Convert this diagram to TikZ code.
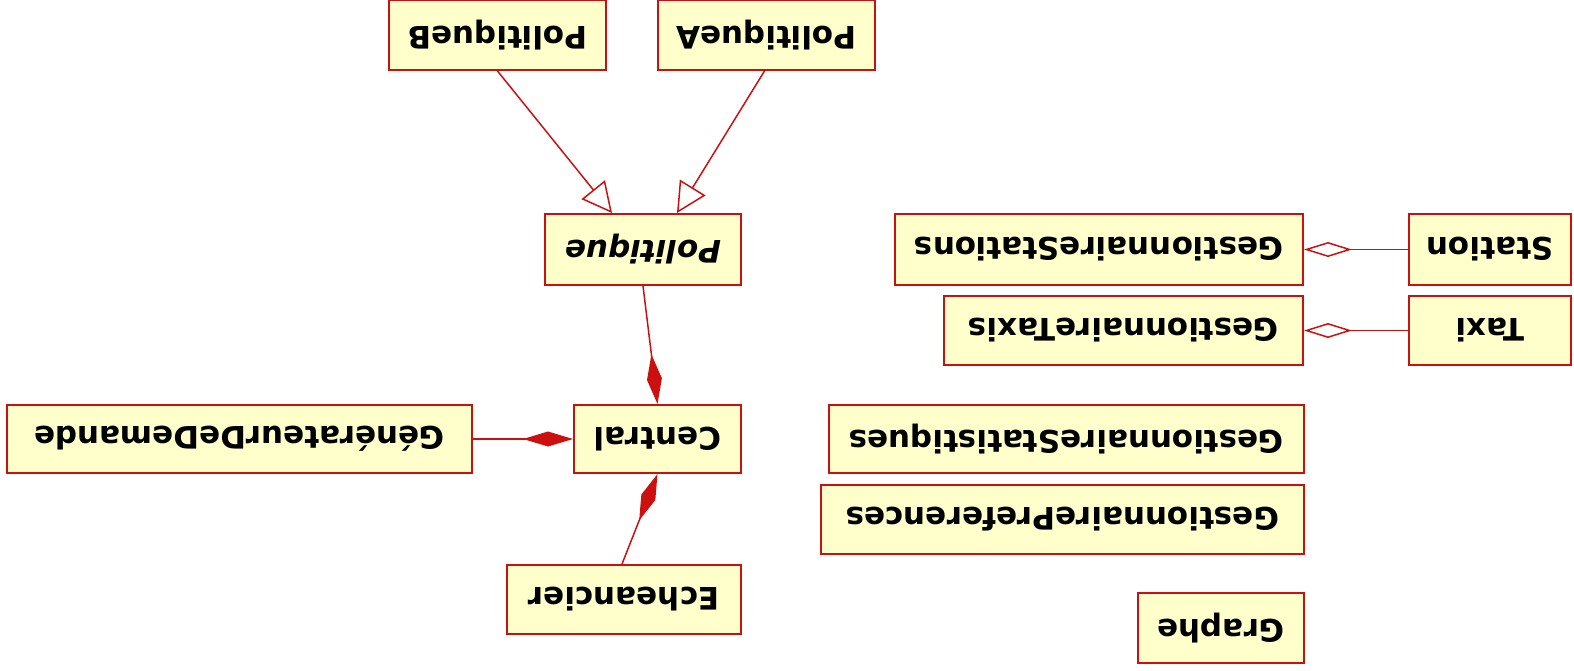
\documentclass[tikz,border=0pt]{standalone}
\usepackage{fontspec}
\setmainfont{DejaVu Sans}
\usetikzlibrary{arrows.meta}
\definecolor{umlred}{RGB}{204,16,16}
\definecolor{umlfill}{RGB}{255,255,204}
\newcommand{\flip}[1]{\rotatebox{180}{#1}}
\tikzset{
  cls/.style={draw=umlred, fill=umlfill, line width=2pt, rectangle, inner sep=0pt,
    minimum height=69pt, font=\fontsize{31}{37}\selectfont\bfseries},
  link/.style={draw=umlred, line width=1.5pt},
  inherit/.style={link, -{Triangle[open, length=30pt, width=30pt, fill=white]}},
  compose/.style={link, -{Diamond[length=50pt, width=15pt, fill=umlred]}},
  aggreg/.style={link, -{Diamond[open, length=48pt, width=15pt, fill=white]}}
}
\begin{document}
\begin{tikzpicture}[x=1pt, y=-1pt]
\useasboundingbox (0,0) rectangle (1574,670);

% class boxes
\node[cls, minimum width=217pt, minimum height=70pt] (pb) at (497.5,35) {\flip{PolitiqueB}};
\node[cls, minimum width=217pt, minimum height=70pt] (pa) at (766.5,35) {\flip{PolitiqueA}};
\node[cls, minimum width=196pt, minimum height=71pt] (pol) at (643,249.5) {\flip{\itshape Politique}};
\node[cls, minimum width=167pt, minimum height=68pt] (central) at (657.5,439) {\flip{Central}};
\node[cls, minimum width=465pt, minimum height=68pt] (gen) at (239.5,439) {\flip{GénérateurDeDemande}};
\node[cls, minimum width=234pt] (ech) at (624,599.5) {\flip{Echeancier}};

\node[cls, minimum width=162pt, minimum height=71pt] (station) at (1490,249.5) {\flip{Station}};
\node[cls, minimum width=408pt, minimum height=71pt] (gstations) at (1099,249.5) {\flip{GestionnaireStations}};
\node[cls, minimum width=162pt] (taxi) at (1490,330.5) {\flip{Taxi}};
\node[cls, minimum width=359pt] (gtaxis) at (1123.5,330.5) {\flip{GestionnaireTaxis}};
\node[cls, minimum width=475pt, minimum height=68pt] (gstat) at (1066.5,439) {\flip{GestionnaireStatistiques}};
\node[cls, minimum width=483pt] (gpref) at (1062.5,519.5) {\flip{GestionnairePreferences}};
\node[cls, minimum width=166pt, minimum height=70pt] (graphe) at (1221,628) {\flip{Graphe}};

% generalisation
\draw[inherit] (pb.south) -- ([xshift=-31pt]pol.north);
\draw[inherit] ([xshift=-2pt]pa.south) -- ([xshift=34pt]pol.north);

% composition
\draw[compose] (pol.south) -- (central.north);
\draw[compose] (gen.east) -- (central.west);
\draw[compose] ([xshift=-2pt]ech.north) -- (central.south);

% aggregation
\draw[aggreg] (station.west) -- (gstations.east);
\draw[aggreg] (taxi.west) -- (gtaxis.east);
\end{tikzpicture}
\end{document}
